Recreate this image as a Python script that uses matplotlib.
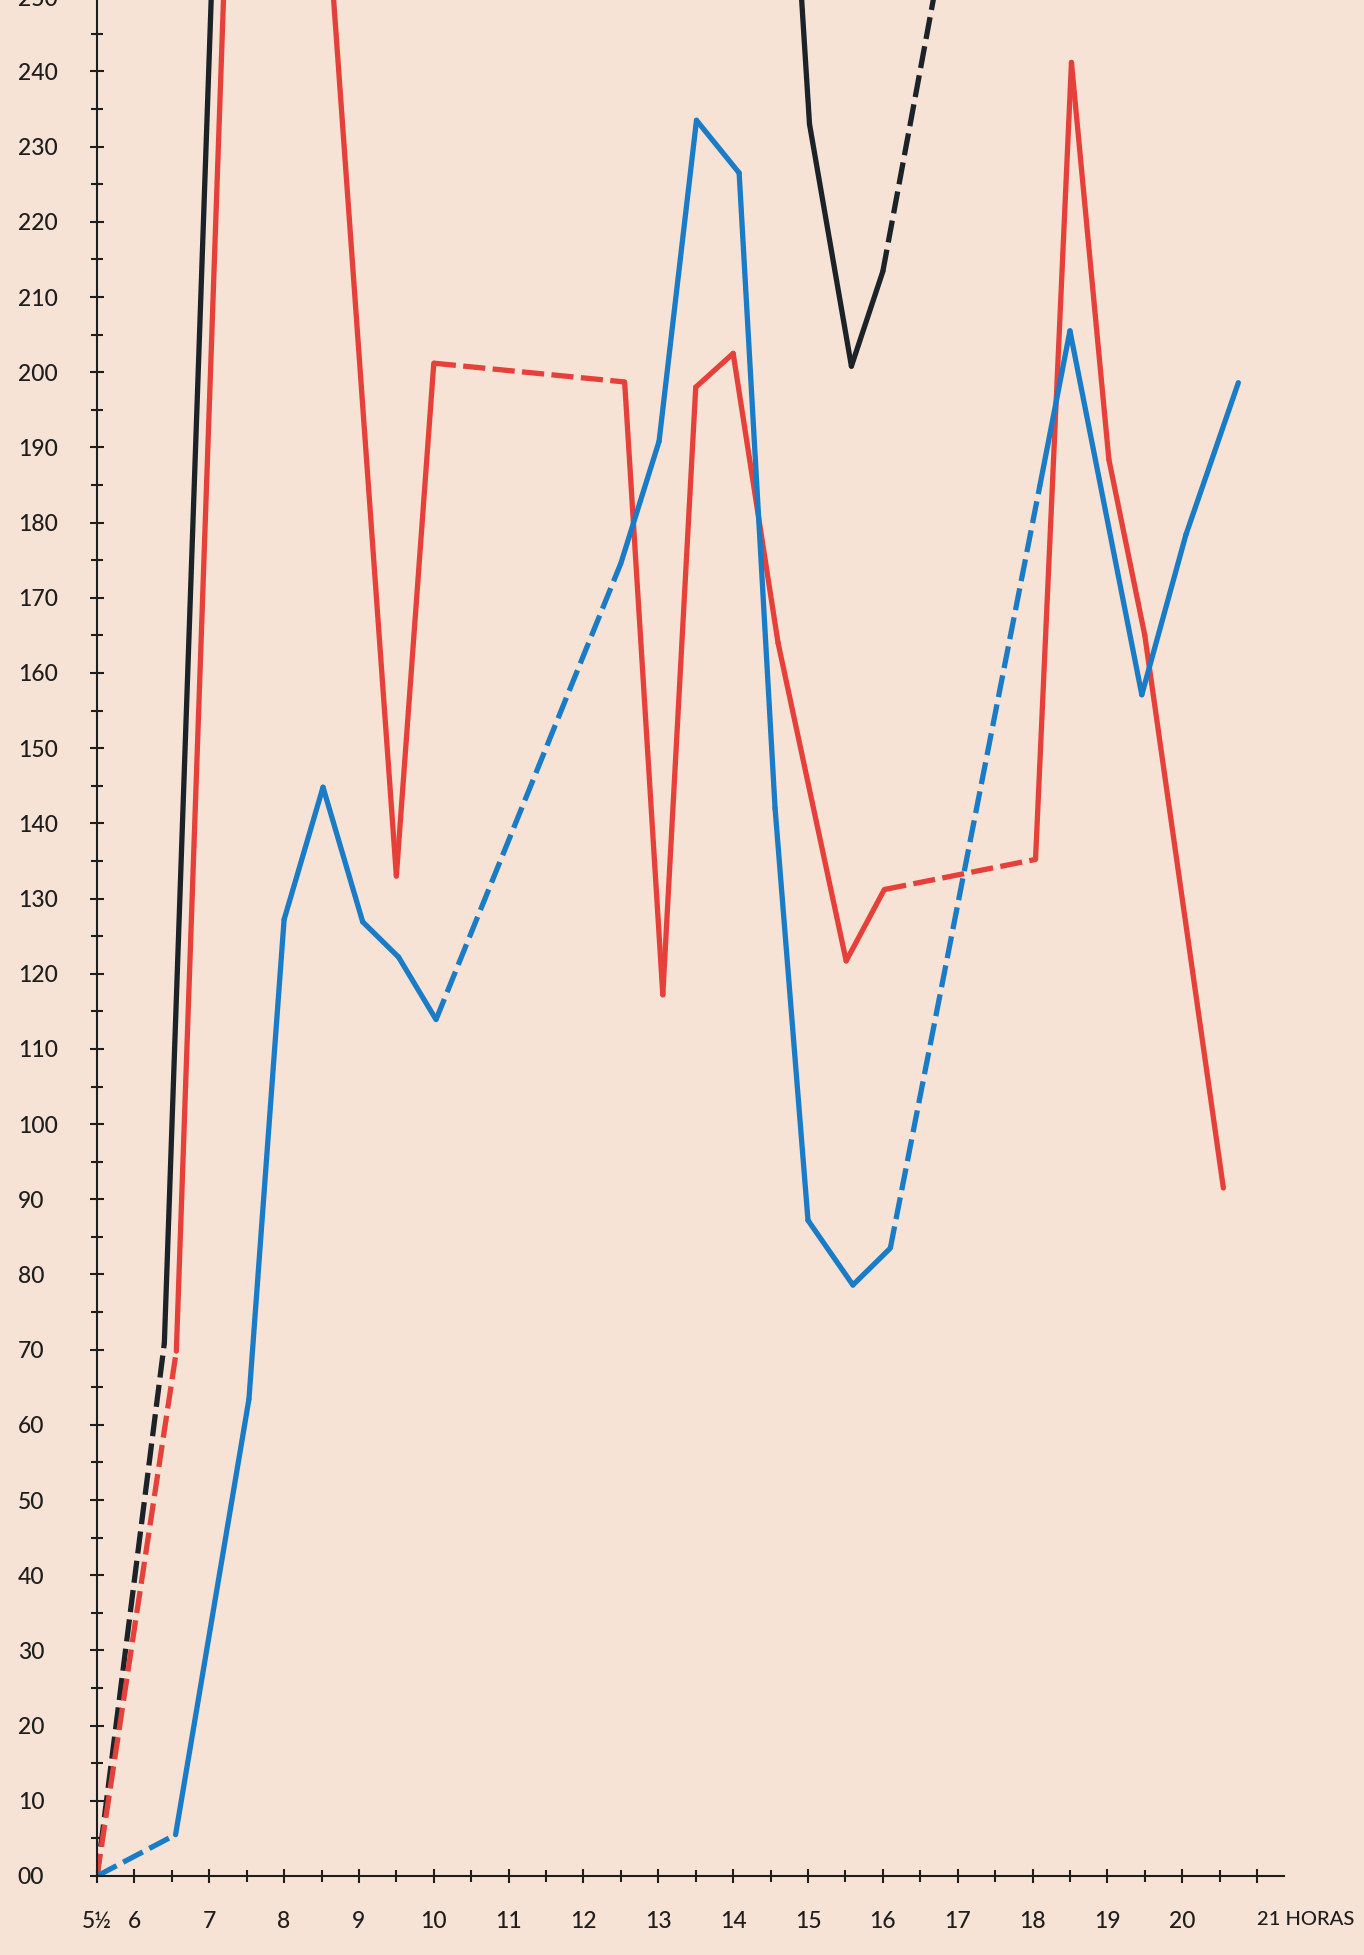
import matplotlib.pyplot as plt
from matplotlib.ticker import MultipleLocator

# hours (x) and readings (y) per curve; values above 250 run off the top
black_hours = [5.5, 6.4, 7.5, 14.5, 15.02, 15.58, 16.0, 17.0]
black_vals = [0, 70.9, 385, 315, 233, 200.8, 213.4, 267]
black_dashed = [0, 6]

red_hours = [5.5, 6.56, 7.5, 8.5, 9.5, 10.0, 12.55, 13.06, 13.5, 14.0, 14.6, 15.51, 16.02, 18.04, 18.52, 19.02, 19.5, 20.55]
red_vals = [0, 69.8, 338, 272, 133, 201.2, 198.7, 117.2, 198, 202.5, 164, 121.7, 131.2, 135.2, 241.2, 188.4, 165, 91.5]
red_dashed = [0, 5, 12]

blue_hours = [5.5, 6.55, 7.53, 8.0, 8.52, 9.05, 9.53, 10.03, 12.5, 13.01, 13.51, 14.08, 14.56, 15.0, 15.6, 16.1, 18.1, 18.5, 19.46, 20.05, 20.75]
blue_vals = [0, 5.5, 63.4, 127.2, 144.8, 126.9, 122.2, 113.9, 174.6, 190.8, 233.5, 226.5, 142, 87.2, 78.6, 83.5, 185, 205.5, 157.1, 178.4, 198.6]
blue_dashed = [0, 7, 15]

x_major = [5.5] + list(range(6, 22))
x_labels = ["5½"] + [str(h) for h in range(6, 21)] + ["21 HORAS"]
y_labels = ["00"] + [str(v) for v in range(10, 250, 10)]

PAPER = "#f6e3d6"
INK = "#1e1e1e"
FS = 16.5

plt.rcParams["font.family"] = ["Lato", "DejaVu Sans"]
plt.rcParams["font.weight"] = "medium"

fig = plt.figure(figsize=(13.64, 19.55), dpi=100, facecolor=PAPER)
ax = fig.add_axes([97 / 1364, 1 - 1876 / 1955, (1284 - 97) / 1364, 1876 / 1955])
ax.set_facecolor(PAPER)


def draw_curve(hours, vals, dashed, color):
    for i in range(len(hours) - 1):
        style = (0, (4.2, 1.4)) if i in dashed else "-"
        ax.plot(hours[i:i + 2], vals[i:i + 2], color=color, lw=3.8, linestyle=style,
                solid_capstyle="round", dash_capstyle="butt")


draw_curve(black_hours, black_vals, black_dashed, "#1b2329")
draw_curve(red_hours, red_vals, red_dashed, "#e6403a")
draw_curve(blue_hours, blue_vals, blue_dashed, "#1a7cc6")

ax.set_xlim(5.5, 21.36)
ax.set_ylim(0, 249.5)

for side in ["top", "right"]:
    ax.spines[side].set_visible(False)
for side in ["left", "bottom"]:
    ax.spines[side].set_color(INK)
    ax.spines[side].set_linewidth(1.5)

# major ticks at 10, minor at 5
ax.set_yticks(range(0, 250, 10))
ax.set_yticklabels(y_labels)
ax.yaxis.set_minor_locator(MultipleLocator(5))
ax.set_xticks(x_major)
ax.set_xticklabels(x_labels)
ax.xaxis.set_minor_locator(MultipleLocator(0.5))

ax.tick_params(axis="both", which="both", direction="inout", color=INK, width=1.5, labelcolor=INK, labelsize=FS)
ax.tick_params(axis="y", which="major", length=10, pad=52)
ax.tick_params(axis="y", which="minor", length=9)
ax.tick_params(axis="x", which="major", length=10, pad=20)
ax.tick_params(axis="x", which="minor", length=9)

for lab in ax.get_yticklabels():
    lab.set_horizontalalignment("left")
last = ax.get_xticklabels()[-1]
last.set_horizontalalignment("left")
last.set_fontsize(14.5)

# top label, cut by the page edge like on the scan
fig.text(18 / 1364, 1.0, "250", ha="left", va="center", fontsize=FS, color=INK)

plt.savefig("out.png", dpi=100, facecolor=PAPER)
